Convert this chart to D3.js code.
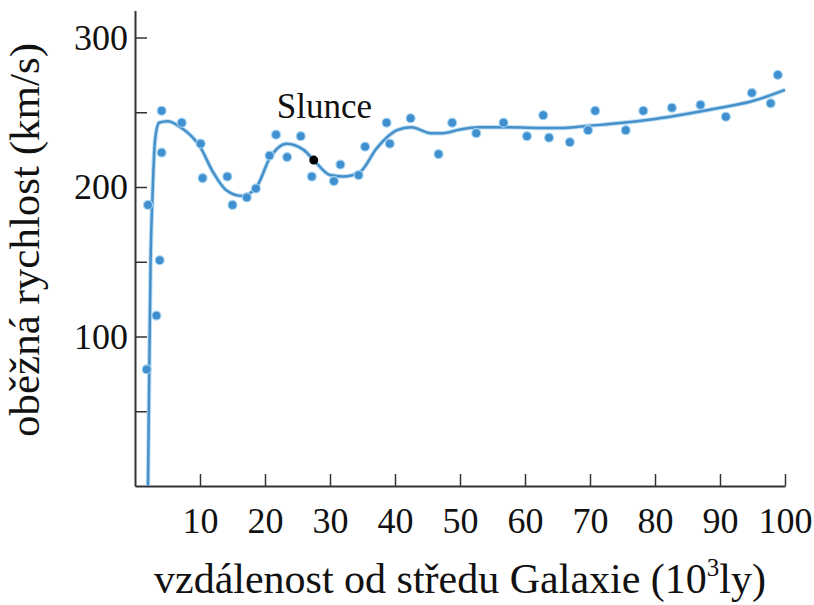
<!DOCTYPE html>
<html>
<head>
<meta charset="utf-8">
<script src="https://cdn.jsdelivr.net/npm/d3@7"></script>
<style>
  html, body { margin: 0; padding: 0; background: #fff; }
  svg { display: block; }
  text { font-family: "Liberation Serif", "Times New Roman", serif; fill: #111; }
</style>
</head>
<body>
<svg id="chart" width="814" height="605"></svg>
<script>
// ---- data ----
const xTickValues = [10, 20, 30, 40, 50, 60, 70, 80, 90, 100];
const yTickValues = [50, 100, 150, 200, 250, 300];
const yLabeledTicks = [100, 200, 300];

// measured stars / gas clouds: distance (10^3 ly), orbital speed (km/s)
const pointX = [1.8, 2.0, 3.3, 3.8, 4.1, 4.1, 7.2, 10.1, 10.4, 14.2, 15.0, 17.2, 18.6,
                20.7, 21.7, 23.4, 25.5, 27.2, 30.6, 31.6, 34.4, 35.4, 38.7, 39.2,
                42.4, 46.7, 48.8, 52.5, 56.7, 60.3, 62.8, 63.7, 66.9, 69.7, 70.8,
                75.5, 78.2, 82.6, 87.0, 90.9, 94.9, 97.8, 98.9];
const pointY = [78, 188, 114, 151, 251, 223, 243, 229, 206, 207, 188, 193, 199,
                221, 235, 220, 234, 207, 204, 215, 208, 227, 243, 229,
                246, 222, 243, 236, 243, 234, 248, 233, 230, 238, 251,
                238, 251, 253, 255, 247, 263, 256, 275];

// fitted rotation curve
const curveX = [2.0, 2.2, 2.4, 2.7, 3.1, 3.7, 5, 7, 10, 12, 14, 16.5, 18.7, 20.7, 23.3,
                25.9, 27.5, 30, 32, 34.6, 37.2, 40.3, 42.5, 45.5, 47.4, 50, 53, 57,
                62, 66, 70, 75, 80, 85, 90, 95, 100];
const curveY = [0, 80, 150, 195, 232, 243, 244, 240, 227, 210, 198, 194, 200, 219, 229,
                225, 218, 208, 207, 210, 226, 238, 240, 236, 236, 238.5, 240, 240,
                239.5, 239.5, 241, 243, 245.5, 249, 253, 257.5, 265];

// the Sun
const sunX = [27.5];
const sunY = [218];
const sunLabel = "Slunce";

const xTitle = "vzdálenost od středu Galaxie (10";
const xTitleSup = "3";
const xTitleEnd = "ly)";
const yTitle = "oběžná rychlost (km/s)";

// ---- drawing ----
const svg = d3.select("#chart");
const x = d3.scaleLinear().domain([0, 100]).range([135, 785]);
const y = d3.scaleLinear().domain([0, 318]).range([486, 10.6]);

const axisColor = "#333";
const blue = "#4090cf";

// x axis
const gx = svg.append("g").attr("transform", `translate(0,${y(0)})`)
  .call(d3.axisBottom(x).tickValues(xTickValues).tickSizeInner(-12).tickSizeOuter(0)
    .tickPadding(21).tickFormat(d3.format("d")));
gx.select(".domain").attr("stroke", axisColor).attr("stroke-width", 2);
gx.selectAll(".tick line").attr("stroke", axisColor).attr("stroke-width", 1.5);
gx.selectAll(".tick text").attr("font-size", 36).attr("fill", "#111")
  .style("font-family", '"Liberation Serif", serif');

// y axis
const gy = svg.append("g").attr("transform", `translate(${x(0)},0)`)
  .call(d3.axisLeft(y).tickValues(yTickValues).tickSizeInner(-12).tickSizeOuter(0)
    .tickPadding(7).tickFormat(d => yLabeledTicks.includes(d) ? d : ""));
gy.select(".domain").attr("stroke", axisColor).attr("stroke-width", 2);
gy.selectAll(".tick line").attr("stroke", axisColor).attr("stroke-width", 1.5);
gy.selectAll(".tick text").attr("font-size", 36).attr("fill", "#111")
  .style("font-family", '"Liberation Serif", serif');

// curve
const line = d3.line().x((d, i) => x(curveX[i])).y((d, i) => y(curveY[i]))
  .curve(d3.curveMonotoneX);
svg.append("path").datum(curveX).attr("d", line)
  .attr("fill", "none").attr("stroke", "#8cc8ee").attr("stroke-width", 4.5).attr("opacity", 0.6);
svg.append("path").datum(curveX).attr("d", line)
  .attr("fill", "none").attr("stroke", "#4790c8").attr("stroke-width", 2.5);

// points
svg.append("g").selectAll("circle").data(pointX).join("circle")
  .attr("cx", (d, i) => x(pointX[i])).attr("cy", (d, i) => y(pointY[i]))
  .attr("r", 4.5).attr("fill", blue).attr("stroke", "#a6d4f2").attr("stroke-width", 1.2);

// sun
svg.append("g").selectAll("circle").data(sunX).join("circle")
  .attr("cx", (d, i) => x(sunX[i])).attr("cy", (d, i) => y(sunY[i]))
  .attr("r", 4.5).attr("fill", "#000");
svg.append("text").attr("x", x(sunX[0]) - 37).attr("y", y(sunY[0]) - 42)
  .attr("font-size", 35).text(sunLabel);

// axis titles
const xt = svg.append("text").attr("x", 460).attr("y", 593).attr("text-anchor", "middle")
  .attr("font-size", 42);
xt.append("tspan").text(xTitle);
xt.append("tspan").attr("font-size", 25).attr("dy", -17).text(xTitleSup);
xt.append("tspan").attr("dy", 17).text(xTitleEnd);

svg.append("text").attr("transform", "translate(39,240) rotate(-90)")
  .attr("text-anchor", "middle").attr("font-size", 43).text(yTitle);
</script>
</body>
</html>
